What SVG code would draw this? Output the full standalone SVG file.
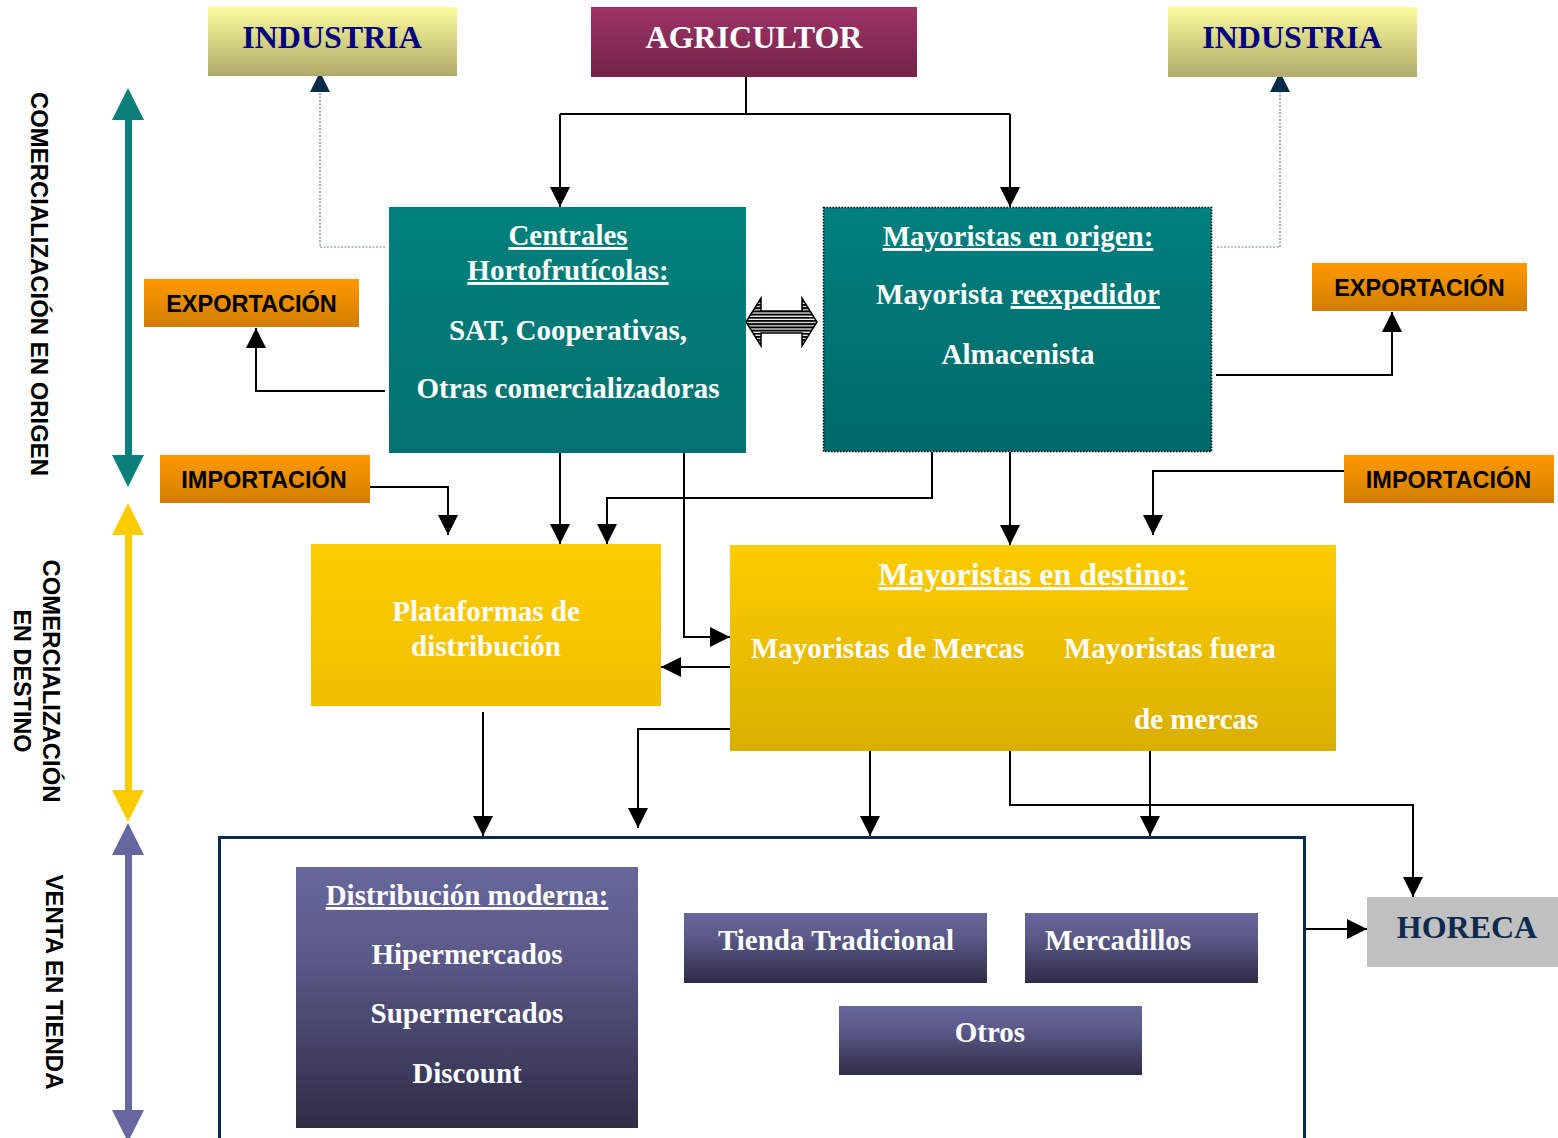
<svg xmlns="http://www.w3.org/2000/svg" width="1558" height="1138" viewBox="0 0 1558 1138">
<defs>
<linearGradient id="gInd" x1="0" y1="0" x2="0" y2="1"><stop offset="0" stop-color="#fcfc9c"/><stop offset="1" stop-color="#aeaa6a"/></linearGradient>
<linearGradient id="gAgr" x1="0" y1="0" x2="0" y2="1"><stop offset="0" stop-color="#9c3467"/><stop offset="1" stop-color="#742248"/></linearGradient>
<linearGradient id="gTealA" x1="0" y1="0" x2="0" y2="1"><stop offset="0" stop-color="#00807c"/><stop offset="1" stop-color="#047270"/></linearGradient>
<linearGradient id="gTealB" x1="0" y1="0" x2="0" y2="1"><stop offset="0" stop-color="#008080"/><stop offset="1" stop-color="#006868"/></linearGradient>
<linearGradient id="gOr" x1="0" y1="0" x2="0" y2="1"><stop offset="0" stop-color="#fd9a00"/><stop offset="1" stop-color="#d27d00"/></linearGradient>
<linearGradient id="gY1" x1="0" y1="0" x2="0" y2="1"><stop offset="0" stop-color="#fdcc00"/><stop offset="1" stop-color="#f0c000"/></linearGradient>
<linearGradient id="gY2" x1="0" y1="0" x2="0" y2="1"><stop offset="0" stop-color="#fdcc00"/><stop offset="1" stop-color="#d9b000"/></linearGradient>
<linearGradient id="gP" x1="0" y1="0" x2="0" y2="1"><stop offset="0" stop-color="#68679b"/><stop offset="0.35" stop-color="#5a5988"/><stop offset="1" stop-color="#2e2d46"/></linearGradient>
<pattern id="hatch" width="6" height="3.2" patternUnits="userSpaceOnUse"><rect width="6" height="3.2" fill="#fff"/><rect width="6" height="2" fill="#000"/></pattern>
<marker id="ah" viewBox="0 0 20 20" refX="20" refY="10" markerWidth="20" markerHeight="20" markerUnits="userSpaceOnUse" orient="auto"><path d="M0,0 L20,10 L0,20 z" fill="#000"/></marker>
<marker id="ahN" viewBox="0 0 20 20" refX="20" refY="10" markerWidth="20" markerHeight="20" markerUnits="userSpaceOnUse" orient="auto"><path d="M0,0 L20,10 L0,20 z" fill="#0d2a4a"/></marker>
</defs>
<style>
.t{font-family:"Liberation Serif","Times New Roman",serif;font-weight:bold;font-size:29px;fill:#fff;text-anchor:middle}
.big{font-size:32px}
.s{font-family:"Liberation Sans",Arial,sans-serif;font-weight:bold;font-size:23.5px;fill:#000;text-anchor:middle}
.v{font-family:"Liberation Sans",Arial,sans-serif;font-weight:bold;font-size:24px;fill:#000;text-anchor:middle}
.u{text-decoration:underline}
.c{fill:none;stroke:#000;stroke-width:2;marker-end:url(#ah)}
.cl{fill:none;stroke:#000;stroke-width:2}
.d{fill:none;stroke:#6a7b94;stroke-width:1.2;stroke-dasharray:2 1.5;marker-end:url(#ahN)}
</style>
<rect width="1558" height="1138" fill="#fff"/>

<g id="side-labels">
<g id="arrow-origen">
<rect x="125" y="118" width="7" height="340" fill="#0a807d"/>
<path d="M112,120 L128,88 L144,120 z M112,455 L128,487 L144,455 z" fill="#0a807d"/>
</g>
<g id="arrow-destino">
<rect x="125" y="533" width="7" height="259" fill="#fdcc00"/>
<path d="M112,535 L128,503 L144,535 z M112,790 L128,822 L144,790 z" fill="#fdcc00"/>
</g>
<g id="arrow-tienda">
<rect x="125" y="853" width="7" height="260" fill="#6766a0"/>
<path d="M112,855 L128,823 L144,855 z M112,1110 L128,1142 L144,1110 z" fill="#6766a0"/>
</g>
<text class="v" transform="translate(31,284) rotate(90)" textLength="384" lengthAdjust="spacingAndGlyphs">COMERCIALIZACIÓN EN ORIGEN</text>
<text class="v" transform="translate(43,681) rotate(90)" textLength="243" lengthAdjust="spacingAndGlyphs">COMERCIALIZACIÓN</text>
<text class="v" transform="translate(14,681) rotate(90)" textLength="143" lengthAdjust="spacingAndGlyphs">EN DESTINO</text>
<text class="v" transform="translate(46,982) rotate(90)" textLength="215" lengthAdjust="spacingAndGlyphs">VENTA EN TIENDA</text>
</g>

<g id="venta-frame">
<path d="M219.5,1145 L219.5,837.5 L1304.5,837.5 L1304.5,1145" fill="none" stroke="#0b2b50" stroke-width="3"/>
</g>

<g id="connectors">
<path class="cl" d="M746,68 V114 M560,114 H1010"/>
<path class="c" d="M560,114 V207"/>
<path class="c" d="M1010,114 V207"/>
<path class="d" d="M385,247 H320 V72"/>
<path class="d" d="M1217,247 H1280 V72"/>
<path class="c" d="M385,391 H256 V328"/>
<path class="c" d="M1216,375 H1392 V312"/>
<path class="c" d="M1344,471 H1153 V535"/>
<path class="c" d="M1010,452 V545"/>
<path class="c" d="M932,452 V498 H607 V544"/>
<path class="c" d="M560,453 V544"/>
<path class="c" d="M684,453 V637 H730"/>
<path class="c" d="M370,487 H448 V535"/>
<path class="c" d="M730,667 H661"/>
<path class="c" d="M483,712 V836"/>
<path class="c" d="M730,729 H638 V828"/>
<path class="c" d="M870,751 V836"/>
<path class="c" d="M1150,751 V836"/>
<path class="c" d="M1010,751 V805 H1413 V897"/>
<path class="c" d="M1305,929 H1367"/>
<path id="double-arrow" d="M746,322 L761,298 L761,311 L802,311 L802,298 L817,322 L802,346 L802,333 L761,333 L761,346 z" fill="url(#hatch)" stroke="#000" stroke-width="1.5" stroke-linejoin="miter"/>
</g>

<g id="industria-left">
<rect x="208" y="7" width="249" height="69" fill="url(#gInd)"/>
<text class="t big" x="332" y="48" style="fill:#000080">INDUSTRIA</text>
</g>
<g id="agricultor">
<rect x="591" y="7" width="326" height="70" fill="url(#gAgr)"/>
<text class="t big" x="754" y="48">AGRICULTOR</text>
</g>
<g id="industria-right">
<rect x="1168" y="7" width="249" height="70" fill="url(#gInd)"/>
<text class="t big" x="1292" y="48" style="fill:#000080">INDUSTRIA</text>
</g>

<g id="centrales">
<rect x="389" y="207" width="357" height="246" fill="url(#gTealA)"/>
<text class="t u" x="568" y="245">Centrales</text>
<text class="t u" x="568" y="280">Hortofrutícolas:</text>
<text class="t" x="568" y="340">SAT, Cooperativas,</text>
<text class="t" x="568" y="398">Otras comercializadoras</text>
</g>

<g id="mayoristas-origen">
<rect x="823.5" y="207.5" width="388" height="244" fill="url(#gTealB)" stroke="#000" stroke-width="1.5" stroke-dasharray="1.5 1.5"/>
<text class="t u" x="1018" y="246">Mayoristas en origen:</text>
<text class="t" x="1018" y="304">Mayorista <tspan class="u">reexpedidor</tspan></text>
<text class="t" x="1018" y="364">Almacenista</text>
</g>

<g id="exportacion-left">
<rect x="144" y="279" width="215" height="48" fill="url(#gOr)"/>
<text class="s" x="251.5" y="312">EXPORTACIÓN</text>
</g>
<g id="exportacion-right">
<rect x="1312" y="263" width="215" height="48" fill="url(#gOr)"/>
<text class="s" x="1419.5" y="296">EXPORTACIÓN</text>
</g>
<g id="importacion-left">
<rect x="160" y="455" width="210" height="48" fill="url(#gOr)"/>
<text class="s" x="264" y="488">IMPORTACIÓN</text>
</g>
<g id="importacion-right">
<rect x="1344" y="455" width="210" height="48" fill="url(#gOr)"/>
<text class="s" x="1448.5" y="488">IMPORTACIÓN</text>
</g>

<g id="plataformas">
<rect x="311" y="544" width="350" height="162" fill="url(#gY1)"/>
<text class="t" x="486" y="621">Plataformas de</text>
<text class="t" x="486" y="656">distribución</text>
</g>

<g id="mayoristas-destino">
<rect x="730" y="545" width="606" height="206" fill="url(#gY2)"/>
<text class="t u big" x="1033" y="585">Mayoristas en destino:</text>
<text class="t" x="751" y="658" style="text-anchor:start">Mayoristas de Mercas</text>
<text class="t" x="1064" y="658" style="text-anchor:start">Mayoristas fuera</text>
<text class="t" x="1134" y="729" style="text-anchor:start">de mercas</text>
</g>

<g id="distribucion-moderna">
<rect x="296" y="867" width="342" height="261" fill="url(#gP)"/>
<text class="t u" x="467" y="905">Distribución moderna:</text>
<text class="t" x="467" y="964">Hipermercados</text>
<text class="t" x="467" y="1023">Supermercados</text>
<text class="t" x="467" y="1083">Discount</text>
</g>
<g id="tienda-tradicional">
<rect x="684" y="913" width="303" height="70" fill="url(#gP)"/>
<text class="t" x="836" y="950">Tienda Tradicional</text>
</g>
<g id="mercadillos">
<rect x="1025" y="913" width="233" height="70" fill="url(#gP)"/>
<text class="t" x="1045" y="950" style="text-anchor:start">Mercadillos</text>
</g>
<g id="otros">
<rect x="839" y="1006" width="303" height="69" fill="url(#gP)"/>
<text class="t" x="990" y="1042">Otros</text>
</g>
<g id="horeca">
<rect x="1367" y="897" width="191" height="70" fill="#c0c0c0"/>
<text class="t big" x="1467" y="938" style="fill:#0d2b4e">HORECA</text>
</g>
</svg>
